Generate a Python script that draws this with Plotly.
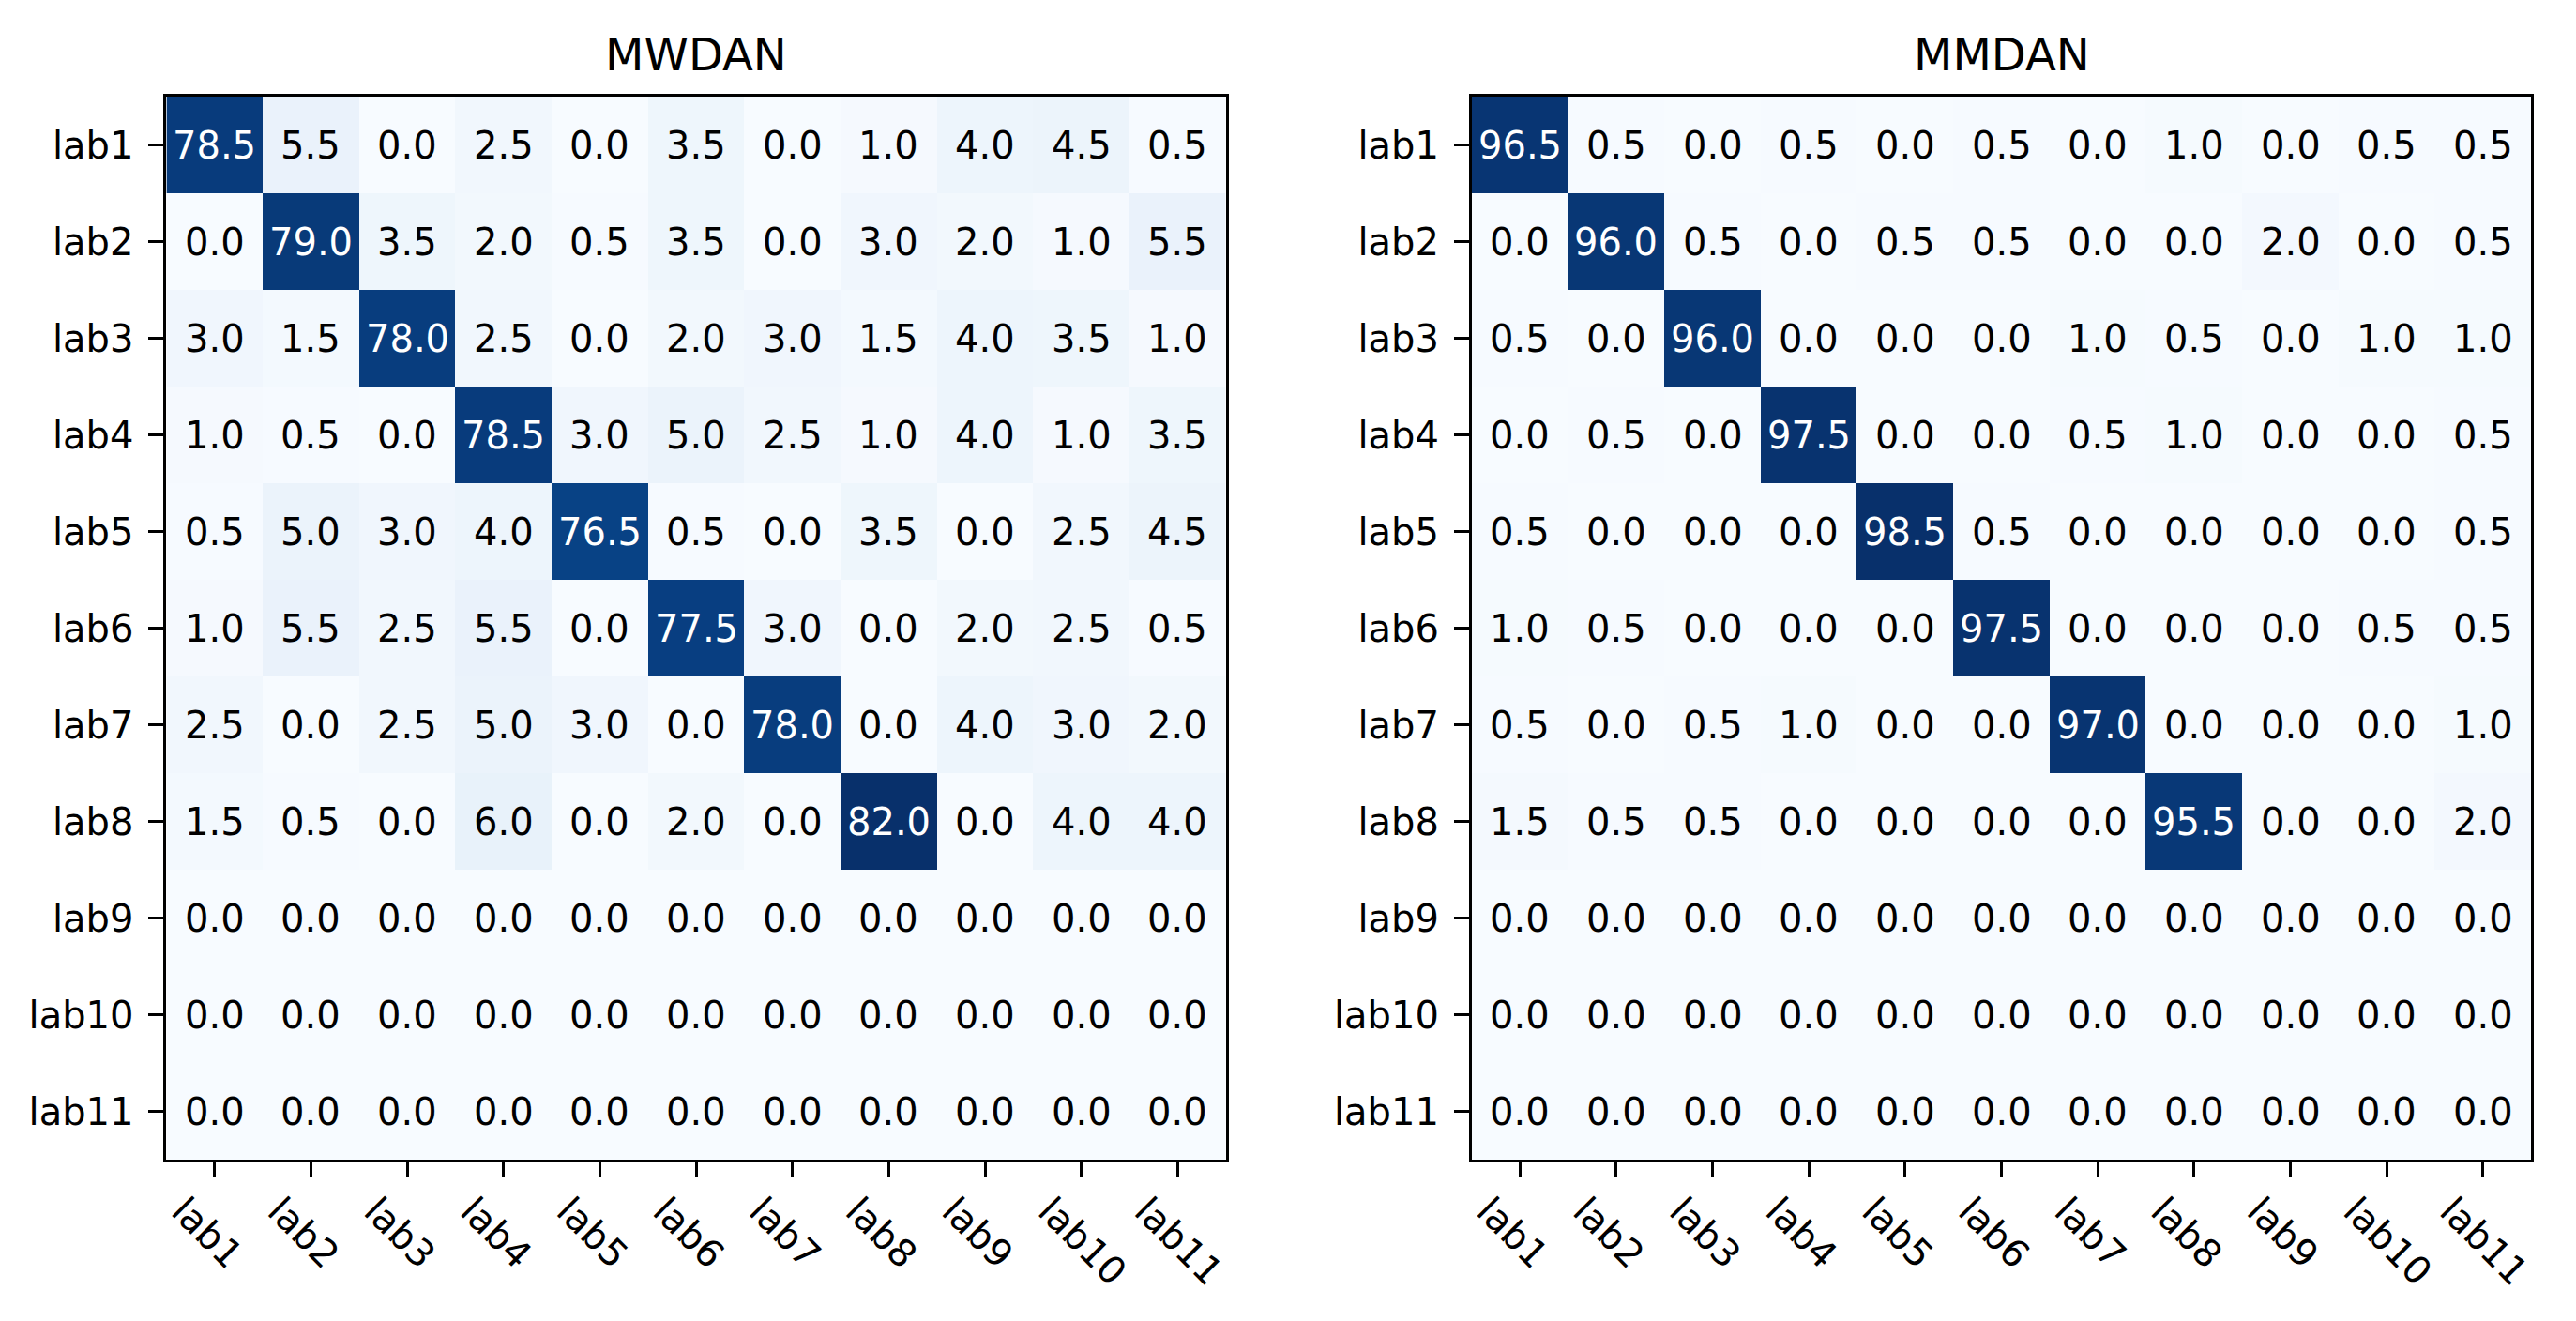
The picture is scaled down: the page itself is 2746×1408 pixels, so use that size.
import plotly.graph_objects as go

labels = ["lab1", "lab2", "lab3", "lab4", "lab5", "lab6", "lab7", "lab8", "lab9", "lab10", "lab11"]

titles = ["MWDAN", "MMDAN"]

mwdan = [
    [78.5, 5.5, 0.0, 2.5, 0.0, 3.5, 0.0, 1.0, 4.0, 4.5, 0.5],
    [0.0, 79.0, 3.5, 2.0, 0.5, 3.5, 0.0, 3.0, 2.0, 1.0, 5.5],
    [3.0, 1.5, 78.0, 2.5, 0.0, 2.0, 3.0, 1.5, 4.0, 3.5, 1.0],
    [1.0, 0.5, 0.0, 78.5, 3.0, 5.0, 2.5, 1.0, 4.0, 1.0, 3.5],
    [0.5, 5.0, 3.0, 4.0, 76.5, 0.5, 0.0, 3.5, 0.0, 2.5, 4.5],
    [1.0, 5.5, 2.5, 5.5, 0.0, 77.5, 3.0, 0.0, 2.0, 2.5, 0.5],
    [2.5, 0.0, 2.5, 5.0, 3.0, 0.0, 78.0, 0.0, 4.0, 3.0, 2.0],
    [1.5, 0.5, 0.0, 6.0, 0.0, 2.0, 0.0, 82.0, 0.0, 4.0, 4.0],
    [0.0, 0.0, 0.0, 0.0, 0.0, 0.0, 0.0, 0.0, 0.0, 0.0, 0.0],
    [0.0, 0.0, 0.0, 0.0, 0.0, 0.0, 0.0, 0.0, 0.0, 0.0, 0.0],
    [0.0, 0.0, 0.0, 0.0, 0.0, 0.0, 0.0, 0.0, 0.0, 0.0, 0.0],
]

mmdan = [
    [96.5, 0.5, 0.0, 0.5, 0.0, 0.5, 0.0, 1.0, 0.0, 0.5, 0.5],
    [0.0, 96.0, 0.5, 0.0, 0.5, 0.5, 0.0, 0.0, 2.0, 0.0, 0.5],
    [0.5, 0.0, 96.0, 0.0, 0.0, 0.0, 1.0, 0.5, 0.0, 1.0, 1.0],
    [0.0, 0.5, 0.0, 97.5, 0.0, 0.0, 0.5, 1.0, 0.0, 0.0, 0.5],
    [0.5, 0.0, 0.0, 0.0, 98.5, 0.5, 0.0, 0.0, 0.0, 0.0, 0.5],
    [1.0, 0.5, 0.0, 0.0, 0.0, 97.5, 0.0, 0.0, 0.0, 0.5, 0.5],
    [0.5, 0.0, 0.5, 1.0, 0.0, 0.0, 97.0, 0.0, 0.0, 0.0, 1.0],
    [1.5, 0.5, 0.5, 0.0, 0.0, 0.0, 0.0, 95.5, 0.0, 0.0, 2.0],
    [0.0, 0.0, 0.0, 0.0, 0.0, 0.0, 0.0, 0.0, 0.0, 0.0, 0.0],
    [0.0, 0.0, 0.0, 0.0, 0.0, 0.0, 0.0, 0.0, 0.0, 0.0, 0.0],
    [0.0, 0.0, 0.0, 0.0, 0.0, 0.0, 0.0, 0.0, 0.0, 0.0, 0.0],
]

blues = ["#f7fbff", "#deebf7", "#c6dbef", "#9ecae1", "#6baed6",
         "#4292c6", "#2171b5", "#08519c", "#08306b"]
colorscale = [[i / (len(blues) - 1), c] for i, c in enumerate(blues)]

FONT = "DejaVu Sans"
W, H = 2746, 1408
OFF = 8  # page body margin

fig = go.Figure()
matrices = [mwdan, mmdan]
x_domains = [[(175 - OFF) / W, (1308 - OFF) / W], [(1571 - OFF) / W, (2704 - OFF) / W]]
y_domain = [1 - (1236 - OFF) / H, 1 - (103 - OFF) / H]

for i, z in enumerate(matrices):
    zmax = max(max(r) for r in z)
    thresh = zmax / 2.0
    xa = "x" if i == 0 else "x2"
    ya = "y" if i == 0 else "y2"
    fig.add_trace(go.Heatmap(
        z=z, x=labels, y=labels,
        zmin=0, zmax=zmax,
        colorscale=colorscale, showscale=False,
        xaxis=xa, yaxis=ya, hoverinfo="skip",
    ))
    for r, row in enumerate(z):
        for c, v in enumerate(row):
            fig.add_annotation(
                x=labels[c], y=labels[r], xref=xa, yref=ya,
                text=f"{v:.1f}", showarrow=False,
                font=dict(family=FONT, size=40,
                          color="white" if v > thresh else "black"),
            )
    fig.add_annotation(
        x=(x_domains[i][0] + x_domains[i][1]) / 2, y=1 - (58 - OFF) / H,
        xref="paper", yref="paper", text=titles[i], showarrow=False,
        xanchor="center", yanchor="middle",
        font=dict(family=FONT, size=48, color="black"),
    )

axis_common = dict(
    showline=True, linewidth=3, linecolor="black", mirror=True,
    ticks="outside", ticklen=16, tickwidth=3, tickcolor="black",
    showgrid=False, zeroline=False,
    tickfont=dict(family=FONT, size=40, color="black"),
)

layout = dict(
    width=W, height=H,
    margin=dict(l=0, r=0, t=0, b=0),
    paper_bgcolor="white", plot_bgcolor="white",
    showlegend=False,
)
for i in range(2):
    sx = "" if i == 0 else "2"
    layout["xaxis" + sx] = dict(axis_common, domain=x_domains[i],
                                anchor="y" + sx, tickangle=45,
                                ticklabelshift=-34, ticklabelstandoff=-4)
    layout["yaxis" + sx] = dict(axis_common, domain=y_domain,
                                anchor="x" + sx, autorange="reversed",
                                ticklabelstandoff=8)

fig.update_layout(**layout)
fig.write_html("out.html")
